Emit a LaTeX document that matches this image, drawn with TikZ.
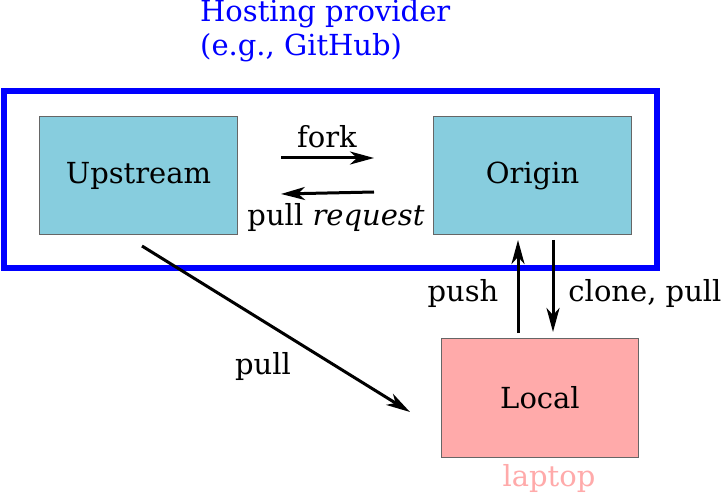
\documentclass[tikz,border=0pt]{standalone}
\usepackage{fontspec}
\setmainfont{DejaVu Serif}
\usetikzlibrary{arrows.meta}
\definecolor{boxblue}{HTML}{87CDDE}
\definecolor{boxpink}{HTML}{FFAAAA}
\begin{document}
\begin{tikzpicture}[x=1pt,y=-1pt,
  every node/.style={font=\fontsize{29}{34}\selectfont, inner sep=0pt},
  repo/.style={draw=black!60, line width=1pt, minimum width=198pt, minimum height=118pt, anchor=north west},
  arr/.style={line width=3pt, -{Stealth[length=24pt,width=13pt,inset=7pt]}}]
\useasboundingbox (0,0) rectangle (722,494);
\draw[blue, line width=6pt] (4,91) rectangle (657,268);
\node[anchor=north west, align=left, text=blue] (host) at (200,-1) {Hosting provider\\(e.g., GitHub)};
\node[repo, fill=boxblue] (up) at (39,116) {Upstream};
\node[repo, fill=boxblue] (orig) at (433,116) {Origin};
\node[repo, fill=boxpink, minimum width=197pt, minimum height=119pt] (loc) at (441,338) {Local};
\node[text=boxpink] (lap) at (549,478) {laptop};
\coordinate (fa) at (281,158); \coordinate (fb) at (374,158);
\coordinate (pa) at (374,192); \coordinate (pb) at (281,194);
\coordinate (ua) at (142,246); \coordinate (ub) at (410,412);
\coordinate (sa) at (518,333); \coordinate (sb) at (518,240);
\coordinate (ca) at (553,240); \coordinate (cb) at (553,332);
\draw[arr] (fa) -- (fb);
\draw[arr] (pa) -- (pb);
\draw[arr] (ua) -- (ub);
\draw[arr] (sa) -- (sb);
\draw[arr] (ca) -- (cb);
\node (lfork) at (327,137) {fork};
\node (lpr) at (336,217) {pull \textit{request}};
\node (lpull) at (263,366) {pull};
\node (lpush) at (463,293) {push};
\node (lclone) at (645,293) {clone, pull};
\end{tikzpicture}
\end{document}
